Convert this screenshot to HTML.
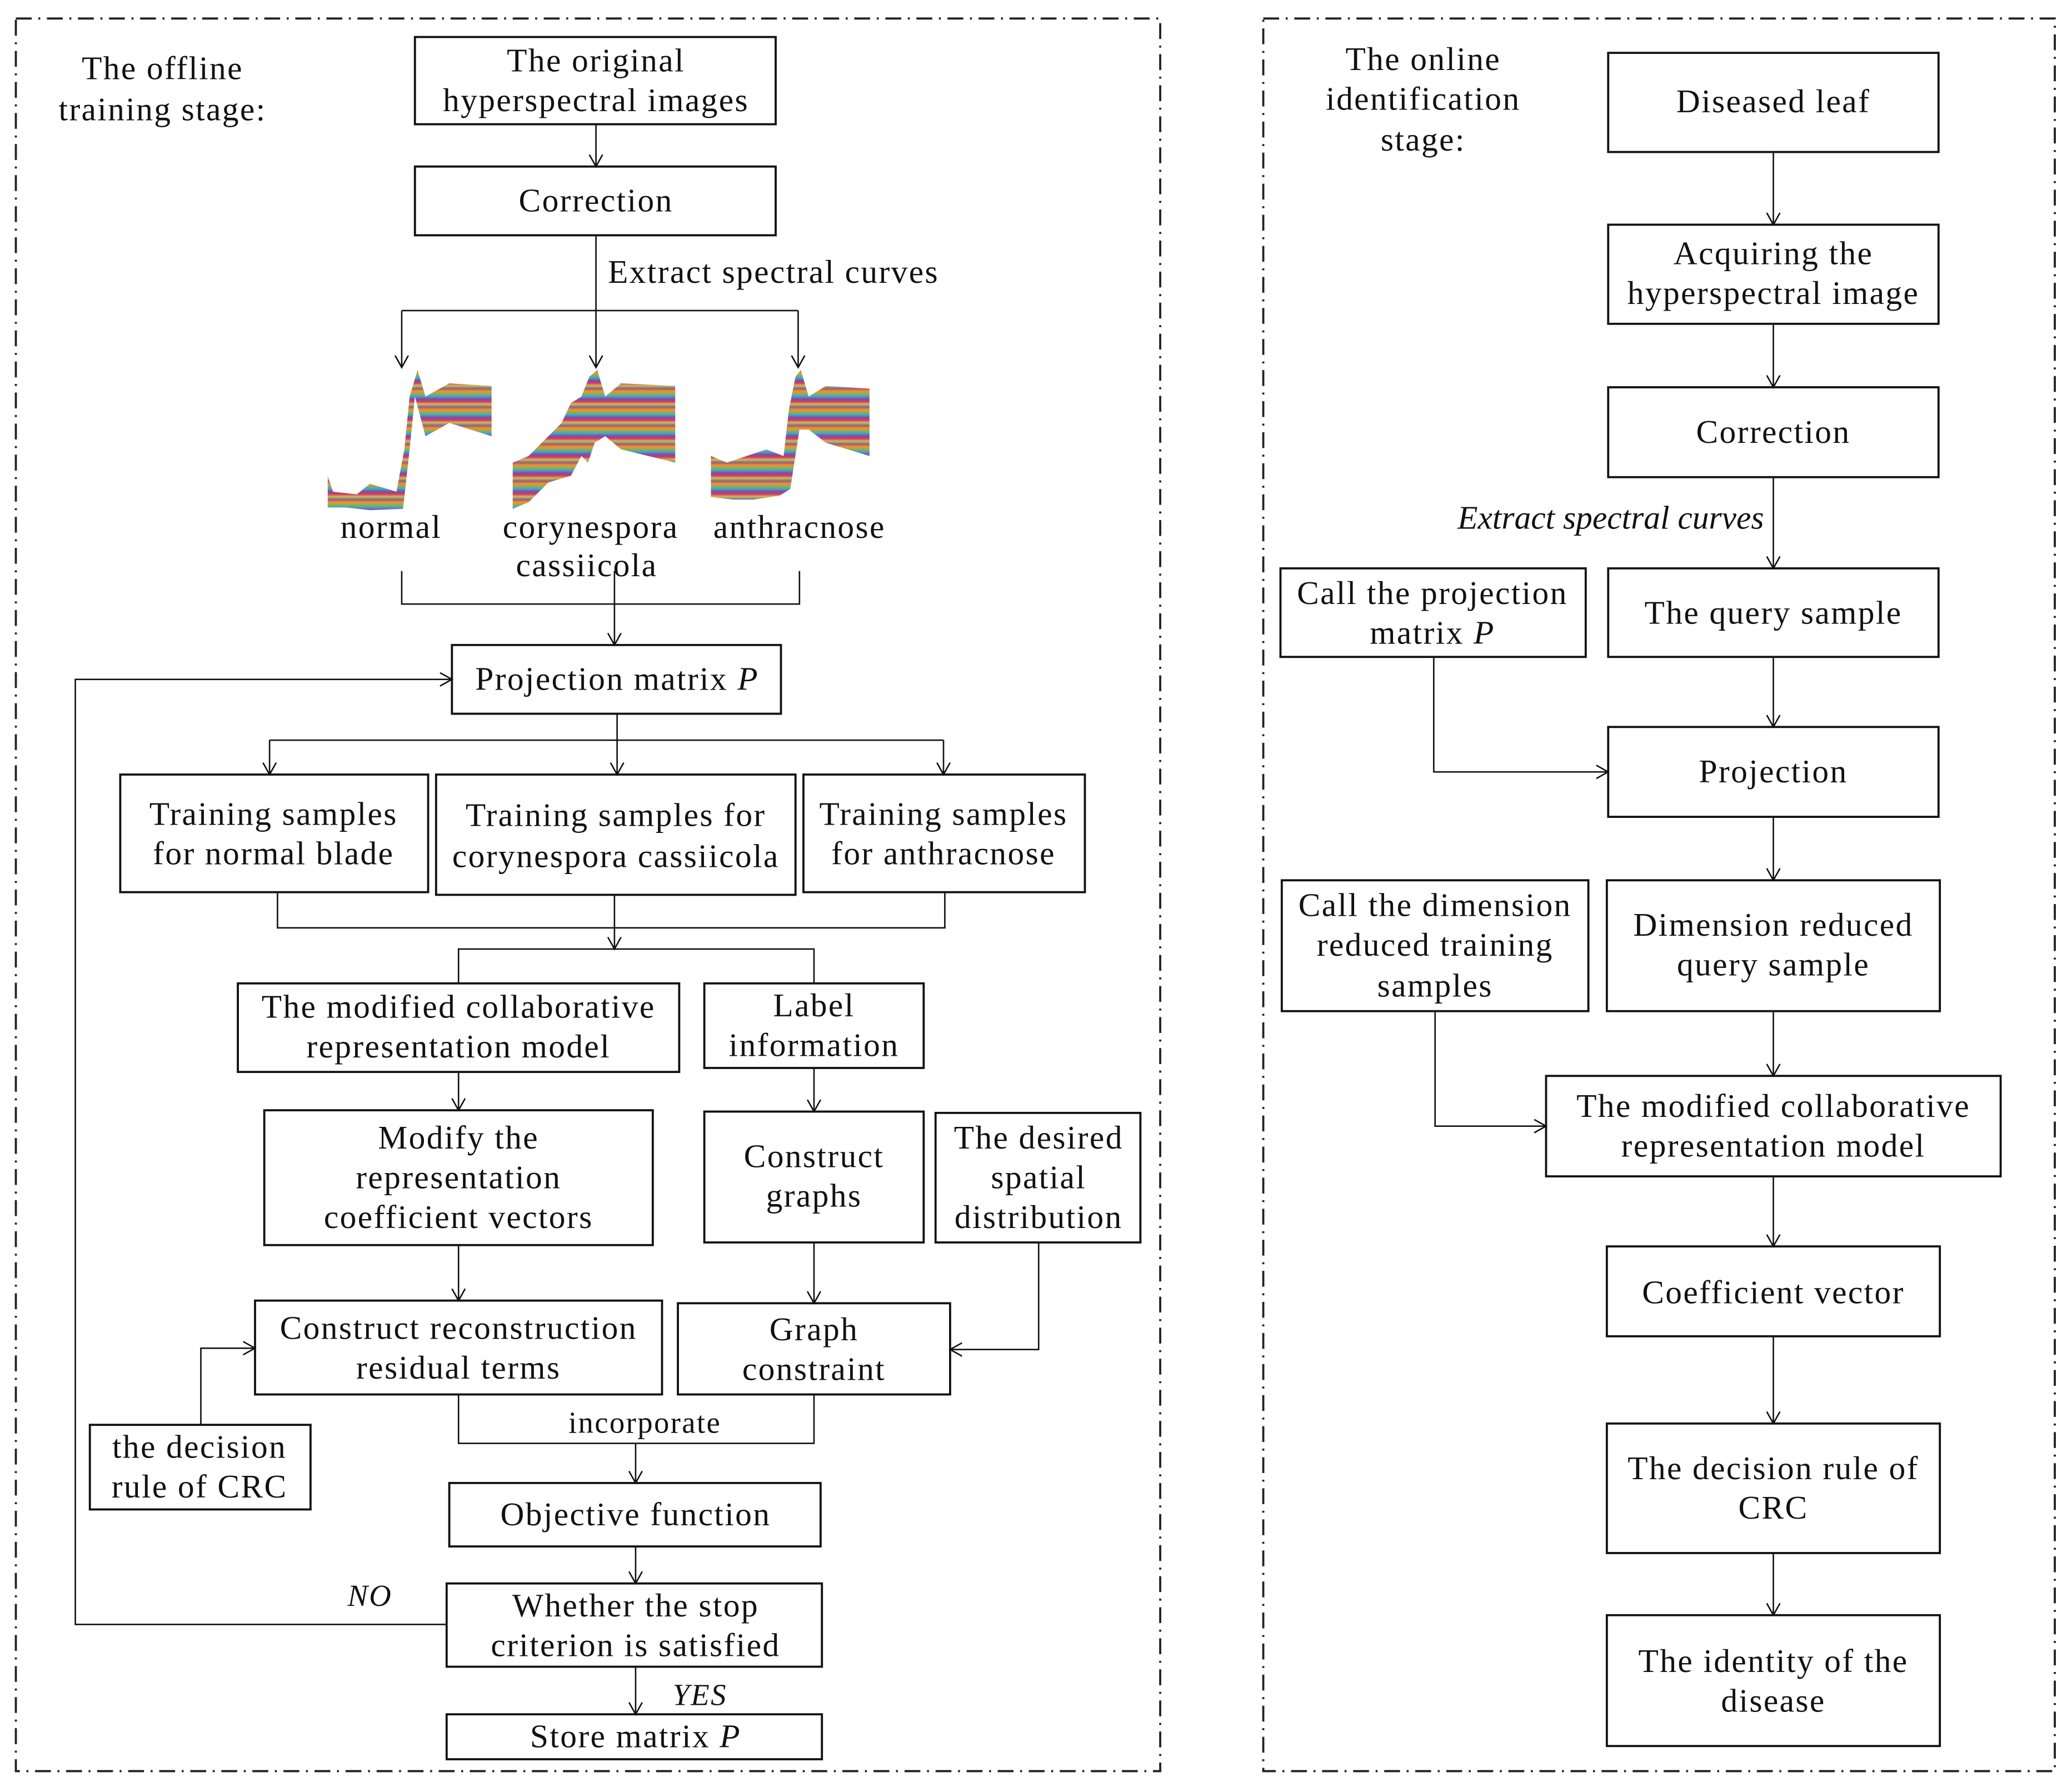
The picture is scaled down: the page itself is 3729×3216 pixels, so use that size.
<!DOCTYPE html>
<html><head><meta charset="utf-8"><style>
html,body{margin:0;padding:0;background:#fff;}
svg{display:block;}
text{font-family:"Liberation Serif",serif;font-size:25px;letter-spacing:1px;fill:#111;}
.i{font-style:italic;}
.s{font-size:23px;}
</style></head><body>
<svg width="3729" height="3216" viewBox="0 0 1568 1352" preserveAspectRatio="none" xmlns="http://www.w3.org/2000/svg">
<defs>
<marker id="a" markerWidth="12" markerHeight="12" refX="10" refY="6" orient="auto" markerUnits="userSpaceOnUse">
<path d="M1,1 L10,6 L1,11" fill="none" stroke="#111" stroke-width="1.1"/>
</marker>
<linearGradient id="g" x1="0" y1="0" x2="0" y2="1" spreadMethod="repeat">
<stop offset="0" stop-color="#d03a2a"/><stop offset="0.14" stop-color="#e8892a"/>
<stop offset="0.28" stop-color="#8aa83a"/><stop offset="0.42" stop-color="#2aa0c8"/>
<stop offset="0.56" stop-color="#7a3aa0"/><stop offset="0.7" stop-color="#c82a5a"/>
<stop offset="0.84" stop-color="#e0b030"/><stop offset="1" stop-color="#3070c0"/>
</linearGradient>
<pattern id="p" width="10" height="14" patternUnits="userSpaceOnUse">
<rect width="10" height="14" fill="url(#g)"/>
</pattern>
</defs>
<rect width="1568" height="1352" fill="#fff"/>
<g fill="none" stroke="#222" stroke-width="1.6" stroke-dasharray="12 5 1.5 5">
<rect x="12" y="14" width="866" height="1326"/>
<rect x="956" y="14" width="599" height="1326"/>
</g>
<g fill="#fff" stroke="#111" stroke-width="1.6">
<rect x="314" y="28" width="273" height="66"/>
<rect x="314" y="126" width="273" height="52"/>
<rect x="342" y="488" width="249" height="52"/>
<rect x="91" y="586" width="233" height="89"/>
<rect x="330" y="586" width="272" height="91"/>
<rect x="608" y="586" width="213" height="89"/>
<rect x="180" y="744" width="334" height="67"/>
<rect x="533" y="744" width="166" height="64"/>
<rect x="200" y="840" width="294" height="102"/>
<rect x="533" y="841" width="166" height="99"/>
<rect x="708" y="842" width="155" height="98"/>
<rect x="193" y="984" width="308" height="71"/>
<rect x="513" y="986" width="206" height="69"/>
<rect x="68" y="1078" width="167" height="64"/>
<rect x="340" y="1122" width="281" height="48"/>
<rect x="338" y="1198" width="284" height="63"/>
<rect x="338" y="1297" width="284" height="34"/>
<rect x="1217" y="40" width="250" height="75"/>
<rect x="1217" y="170" width="250" height="75"/>
<rect x="1217" y="293" width="250" height="68"/>
<rect x="1217" y="430" width="250" height="67"/>
<rect x="969" y="430" width="231" height="67"/>
<rect x="1217" y="550" width="250" height="68"/>
<rect x="1216" y="666" width="252" height="99"/>
<rect x="970" y="666" width="232" height="99"/>
<rect x="1170" y="814" width="344" height="76"/>
<rect x="1216" y="943" width="252" height="68"/>
<rect x="1216" y="1077" width="252" height="98"/>
<rect x="1216" y="1222" width="252" height="99"/>
</g>
<g fill="none" stroke="#111" stroke-width="1.1">
<line x1="451" y1="94" x2="451" y2="126" marker-end="url(#a)"/>
<line x1="451" y1="178" x2="451" y2="235"/>
<line x1="304" y1="235" x2="604" y2="235"/>
<line x1="304" y1="235" x2="304" y2="278" marker-end="url(#a)"/>
<line x1="451" y1="235" x2="451" y2="278" marker-end="url(#a)"/>
<line x1="604" y1="235" x2="604" y2="278" marker-end="url(#a)"/>
<polyline points="304,432 304,457 605,457 605,432"/>
<line x1="465" y1="432" x2="465" y2="488" marker-end="url(#a)"/>
<polyline points="338,1229 57,1229 57,514 342,514" marker-end="url(#a)"/>
<line x1="467" y1="540" x2="467" y2="560"/>
<line x1="204" y1="560" x2="714" y2="560"/>
<line x1="204" y1="560" x2="204" y2="586" marker-end="url(#a)"/>
<line x1="467" y1="560" x2="467" y2="586" marker-end="url(#a)"/>
<line x1="714" y1="560" x2="714" y2="586" marker-end="url(#a)"/>
<polyline points="210,675 210,702 715,702 715,675"/>
<line x1="465" y1="677" x2="465" y2="718" marker-end="url(#a)"/>
<polyline points="347,744 347,718 616,718 616,744"/>
<line x1="347" y1="811" x2="347" y2="840" marker-end="url(#a)"/>
<line x1="616" y1="808" x2="616" y2="841" marker-end="url(#a)"/>
<line x1="347" y1="942" x2="347" y2="984" marker-end="url(#a)"/>
<line x1="616" y1="940" x2="616" y2="986" marker-end="url(#a)"/>
<polyline points="786,940 786,1021 719,1021" marker-end="url(#a)"/>
<polyline points="152,1078 152,1020 193,1020" marker-end="url(#a)"/>
<polyline points="347,1055 347,1092 616,1092 616,1055"/>
<line x1="481" y1="1092" x2="481" y2="1122" marker-end="url(#a)"/>
<line x1="481" y1="1170" x2="481" y2="1198" marker-end="url(#a)"/>
<line x1="481" y1="1261" x2="481" y2="1297" marker-end="url(#a)"/>
<line x1="1342" y1="115" x2="1342" y2="170" marker-end="url(#a)"/>
<line x1="1342" y1="245" x2="1342" y2="293" marker-end="url(#a)"/>
<line x1="1342" y1="361" x2="1342" y2="430" marker-end="url(#a)"/>
<line x1="1342" y1="497" x2="1342" y2="550" marker-end="url(#a)"/>
<polyline points="1085,497 1085,584 1217,584" marker-end="url(#a)"/>
<line x1="1342" y1="618" x2="1342" y2="666" marker-end="url(#a)"/>
<line x1="1342" y1="765" x2="1342" y2="814" marker-end="url(#a)"/>
<polyline points="1086,765 1086,852 1170,852" marker-end="url(#a)"/>
<line x1="1342" y1="890" x2="1342" y2="943" marker-end="url(#a)"/>
<line x1="1342" y1="1011" x2="1342" y2="1077" marker-end="url(#a)"/>
<line x1="1342" y1="1175" x2="1342" y2="1222" marker-end="url(#a)"/>
</g>
<g fill="url(#p)" opacity="0.92">
<path d="M248,360 L252,372 270,374 280,366 300,372 306,340 310,300 316,280 322,300 340,290 372,292 L372,330 340,320 322,330 314,300 310,340 305,385 280,386 262,384 248,384 Z"/>
<path d="M388,350 L400,345 415,330 425,320 432,305 440,300 446,285 452,280 458,300 470,290 511,292 L511,350 470,340 458,330 450,335 445,350 440,345 432,360 415,365 400,380 388,385 Z"/>
<path d="M538,345 L550,350 565,345 580,340 593,345 597,310 602,285 606,280 612,300 625,292 658,294 L658,345 625,335 612,325 605,325 598,370 590,375 570,378 555,378 538,376 Z"/>
</g>
<g text-anchor="middle">
<text x="123" y="60">The offline</text>
<text x="123" y="91">training stage:</text>
<text x="451" y="54">The original</text>
<text x="451" y="84">hyperspectral images</text>
<text x="451" y="160">Correction</text>
<text x="296" y="407">normal</text>
<text x="447" y="407">corynespora</text>
<text x="444" y="436">cassiicola</text>
<text x="605" y="407">anthracnose</text>
<text x="467" y="522">Projection matrix <tspan class="i">P</tspan></text>
<text x="207" y="624">Training samples</text>
<text x="207" y="654">for normal blade</text>
<text x="466" y="625">Training samples for</text>
<text x="466" y="656">corynespora cassiicola</text>
<text x="714" y="624">Training samples</text>
<text x="714" y="654">for anthracnose</text>
<text x="347" y="770">The modified collaborative</text>
<text x="347" y="800">representation model</text>
<text x="616" y="769">Label</text>
<text x="616" y="799">information</text>
<text x="347" y="869">Modify the</text>
<text x="347" y="899">representation</text>
<text x="347" y="929">coefficient vectors</text>
<text x="616" y="883">Construct</text>
<text x="616" y="913">graphs</text>
<text x="786" y="869">The desired</text>
<text x="786" y="899">spatial</text>
<text x="786" y="929">distribution</text>
<text x="347" y="1013">Construct reconstruction</text>
<text x="347" y="1043">residual terms</text>
<text x="616" y="1014">Graph</text>
<text x="616" y="1044">constraint</text>
<text x="151" y="1103">the decision</text>
<text x="151" y="1133">rule of CRC</text>
<text x="488" y="1084" class="s">incorporate</text>
<text x="481" y="1154">Objective function</text>
<text x="481" y="1223">Whether  the stop</text>
<text x="481" y="1253">criterion is satisfied</text>
<text x="481" y="1322">Store  matrix <tspan class="i">P</tspan></text>
<text x="1077" y="53">The online</text>
<text x="1077" y="83">identification</text>
<text x="1077" y="114">stage:</text>
<text x="1342" y="85">Diseased leaf</text>
<text x="1342" y="200">Acquiring the</text>
<text x="1342" y="230">hyperspectral image</text>
<text x="1342" y="335">Correction</text>
<text x="1342" y="472">The query sample</text>
<text x="1084" y="457">Call the projection</text>
<text x="1084" y="487">matrix <tspan class="i">P</tspan></text>
<text x="1342" y="592">Projection</text>
<text x="1342" y="708">Dimension reduced</text>
<text x="1342" y="738">query sample</text>
<text x="1086" y="693">Call the dimension</text>
<text x="1086" y="723">reduced training</text>
<text x="1086" y="754">samples</text>
<text x="1342" y="845">The modified collaborative</text>
<text x="1342" y="875">representation model</text>
<text x="1342" y="986">Coefficient vector</text>
<text x="1342" y="1119">The decision rule of</text>
<text x="1342" y="1149">CRC</text>
<text x="1342" y="1265">The identity of the</text>
<text x="1342" y="1295">disease</text>
</g>
<text x="460" y="214">Extract spectral curves</text>
<text x="1103" y="400" class="i" style="letter-spacing:0">Extract spectral curves</text>
<text x="263" y="1215" class="i s">NO</text>
<text x="509" y="1290" class="i s">YES</text>
</svg>
</body></html>
